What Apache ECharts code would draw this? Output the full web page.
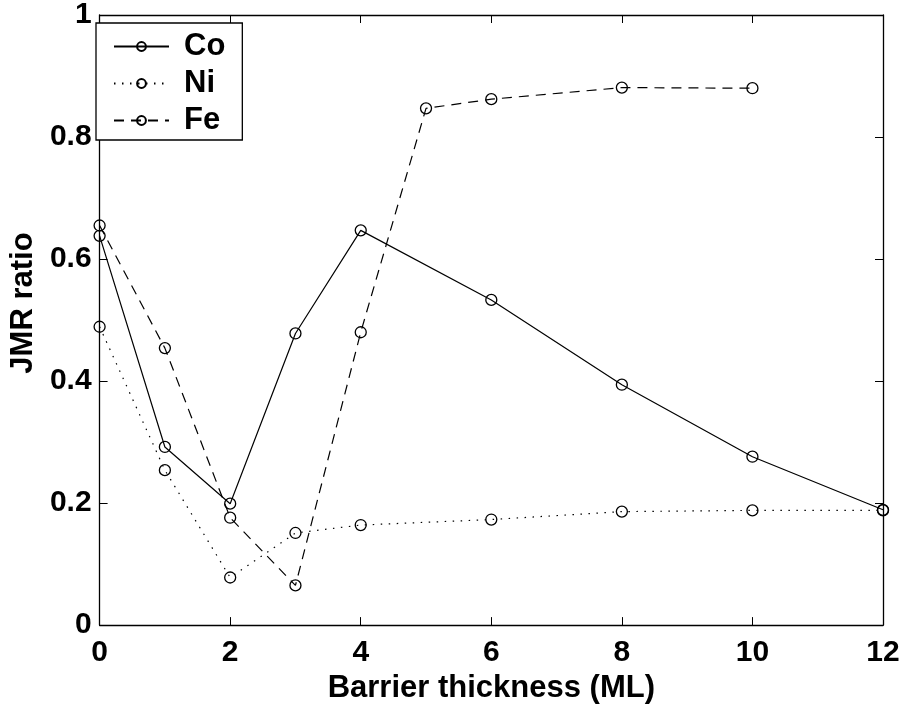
<!DOCTYPE html>
<html>
<head>
<meta charset="utf-8">
<title>JMR ratio vs barrier thickness</title>
<script src="https://cdn.jsdelivr.net/npm/echarts@6/dist/echarts.min.js"></script>
<style>
  html, body { margin: 0; padding: 0; background: #fff; }
  #chart { width: 905px; height: 709px; }
</style>
</head>
<body>
<div id="chart"></div>
<script>
// Barrier thickness (ML) for each series
const coThickness = [0, 1, 2, 3, 4, 6, 8, 10, 12];
const niThickness = [0, 1, 2, 3, 4, 6, 8, 10, 12];
const feThickness = [0, 1, 2, 3, 4, 5, 6, 8, 10];

// JMR ratio values
const coRatio = [0.638, 0.292, 0.199, 0.478, 0.647, 0.533, 0.394, 0.276, 0.189];
const niRatio = [0.489, 0.254, 0.078, 0.151, 0.164, 0.173, 0.186, 0.188, 0.188];
const feRatio = [0.655, 0.454, 0.176, 0.065, 0.480, 0.847, 0.862, 0.881, 0.880];

// Tick positions
const xTicks = [0, 2, 4, 6, 8, 10, 12];
const yTicks = [0, 0.2, 0.4, 0.6, 0.8, 1];

const FONT = '"Liberation Sans", Arial, Helvetica, sans-serif';
const pairs = (xs, ys) => xs.map((x, i) => [x, ys[i]]);

const chart = echarts.init(document.getElementById('chart'), null, { renderer: 'canvas' });

const tickCommon = { show: true, inside: true, length: 8, lineStyle: { color: '#000', width: 1 } };
const lineCommon = { show: true, onZero: false, lineStyle: { color: '#000', width: 1.3 } };
const labelStyle = { color: '#000', fontFamily: FONT, fontWeight: 'bold', fontSize: 30 };

function series(name, xs, ys, dash) {
  return {
    name: name,
    type: 'line',
    data: pairs(xs, ys),
    symbol: 'circle',
    symbolSize: 11,
    showSymbol: true,
    clip: false,
    z: 3,
    lineStyle: { color: '#000', width: 1.2, type: dash },
    // hollow circles: the connecting line stays visible through them
    itemStyle: { color: 'rgba(0,0,0,0)', borderColor: '#000', borderWidth: 1.3 },
    emphasis: { disabled: true }
  };
}

chart.setOption({
  backgroundColor: '#fff',
  animation: false,
  grid: { left: 91, right: 22, top: 14, bottom: 75 },
  xAxis: [
    {
      type: 'value', min: 0, max: 12, interval: 2, position: 'bottom',
      axisLine: lineCommon, axisTick: tickCommon, splitLine: { show: false },
      axisLabel: Object.assign({ margin: 13, customValues: xTicks }, labelStyle),
      name: 'Barrier thickness (ML)', nameLocation: 'middle', nameGap: 44,
      nameTextStyle: { color: '#000', fontFamily: FONT, fontWeight: 'bold', fontSize: 31 }
    },
    {
      type: 'value', min: 0, max: 12, interval: 2, position: 'top',
      axisLine: lineCommon, axisTick: tickCommon, splitLine: { show: false },
      axisLabel: { show: false }
    }
  ],
  yAxis: [
    {
      type: 'value', min: 0, max: 1, interval: 0.2, position: 'left',
      axisLine: lineCommon, axisTick: tickCommon, splitLine: { show: false },
      axisLabel: Object.assign({ margin: 8, customValues: yTicks }, labelStyle),
      name: 'JMR ratio', nameLocation: 'middle', nameGap: 58,
      nameTextStyle: { color: '#000', fontFamily: FONT, fontWeight: 'bold', fontSize: 31, padding: [0, 0, 0, 34] }
    },
    {
      type: 'value', min: 0, max: 1, interval: 0.2, position: 'right',
      axisLine: lineCommon, axisTick: tickCommon, splitLine: { show: false },
      axisLabel: { show: false }
    }
  ],
  legend: {
    orient: 'vertical',
    left: 96, top: 23,
    backgroundColor: '#fff',
    borderColor: '#000', borderWidth: 1.3, borderRadius: 0,
    padding: [8, 17, 4, 17],
    itemWidth: 55, itemHeight: 11, itemGap: 6,
    textStyle: { color: '#000', fontFamily: FONT, fontWeight: 'bold', fontSize: 31, padding: [0, 0, 0, 10] },
    selectedMode: false,
    data: ['Co', 'Ni', 'Fe']
  },
  series: [
    series('Co', coThickness, coRatio, 'solid'),
    series('Ni', niThickness, niRatio, [1.5, 6.5]),
    series('Fe', feThickness, feRatio, [10, 7])
  ]
});
</script>
</body>
</html>
